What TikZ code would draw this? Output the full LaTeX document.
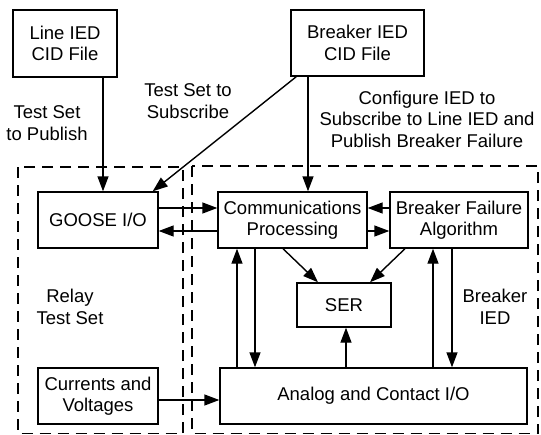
\documentclass[tikz,border=0pt]{standalone}
\usepackage{fontspec}
\setmainfont{Liberation Sans}
\usetikzlibrary{arrows.meta}
\begin{document}
\begin{tikzpicture}[x=1pt,y=-1pt,
  every node/.style={font=\fontsize{18.5}{21.5}\selectfont},
  blk/.style={draw,line width=1.4pt,align=center,inner sep=0pt},
  lbl/.style={align=center,inner sep=0pt},
  arr/.style={line width=1.4pt,-{Triangle[length=15pt,width=11pt]}},
  dashbox/.style={line width=1.4pt,dash pattern=on 11pt off 7pt}]
\useasboundingbox (0,0) rectangle (541,434);
\draw[dashbox] (18,167) rectangle (183,433.5);
\draw[dashbox] (192,166) rectangle (538,433.5);
\node[blk,minimum width=104,minimum height=67] (line) at (65,43.5) {Line IED\\CID File};
\node[blk,minimum width=133,minimum height=66] (bcid) at (357.5,43) {Breaker IED\\CID File};
\node[blk,minimum width=120,minimum height=56] (goose) at (98,220) {GOOSE I/O};
\node[blk,minimum width=149,minimum height=56] (comm) at (292.5,220) {Communications\\Processing};
\node[blk,minimum width=138,minimum height=56] (bf) at (459,220) {Breaker Failure\\Algorithm};
\node[blk,minimum width=94,minimum height=44] (ser) at (344,305) {SER};
\node[blk,minimum width=307,minimum height=56] (analog) at (373.5,396) {Analog and Contact I/O};
\node[blk,minimum width=120,minimum height=56] (cur) at (98,396) {Currents and\\Voltages};
\node[lbl] (pub) at (47,123) {Test Set\\to Publish};
\node[lbl] (sub) at (188,101) {Test Set to\\Subscribe};
\node[lbl] (cfg) at (427,119) {Configure IED to\\Subscribe to Line IED and\\Publish Breaker Failure};
\node[lbl] (relay) at (70,307) {Relay\\Test Set};
\node[lbl] (bied) at (495,307) {Breaker\\IED};
\draw[arr] ([xshift=38]line.south) -- ([xshift=5]goose.north);
\draw[arr] ([xshift=6]bcid.south west) -- ([xshift=-6]goose.north east);
\draw[arr] ([xshift=-49.5]bcid.south) -- ([xshift=15.5]comm.north);
\draw[arr] ([yshift=12]goose.east) -- ([yshift=12]comm.west);
\draw[arr] ([yshift=-11]comm.west) -- ([yshift=-11]goose.east);
\draw[arr] ([yshift=12]bf.west) -- ([yshift=12]comm.east);
\draw[arr] ([yshift=-11]comm.east) -- ([yshift=-11]bf.west);
\draw[arr] ([xshift=-9.5]comm.south) -- ([xshift=-26]ser.north);
\draw[arr] ([xshift=-54]bf.south) -- ([xshift=26]ser.north);
\draw[arr] ([xshift=-27.5]analog.north) -- ([xshift=2]ser.south);
\draw[arr] ([xshift=-136.5]analog.north) -- ([xshift=-55.5]comm.south);
\draw[arr] ([xshift=-37.5]comm.south) -- ([xshift=-118.5]analog.north);
\draw[arr] ([xshift=59.5]analog.north) -- ([xshift=-26]bf.south);
\draw[arr] ([xshift=-7]bf.south) -- ([xshift=78.5]analog.north);
\draw[arr] ([yshift=-4]cur.east) -- ([yshift=-4]analog.west);
\end{tikzpicture}
\end{document}
